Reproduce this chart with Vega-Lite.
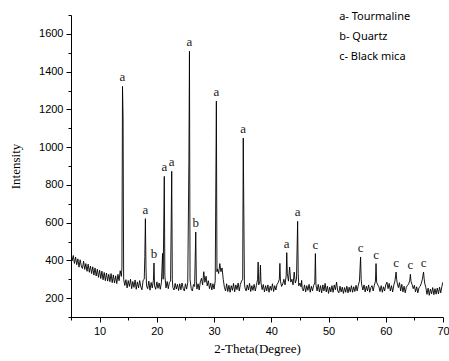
{
  "$schema": "https://vega.github.io/schema/vega-lite/v6.json",
  "width": 372,
  "height": 302,
  "autosize": {"type": "none"},
  "padding": {"left": 71, "top": 15, "right": 6, "bottom": 44},
  "background": "white",
  "config": {
    "view": {"stroke": null},
    "axis": {
      "grid": false, "domainColor": "#000", "tickColor": "#000", "labelColor": "#000", "titleColor": "#000",
      "labelFont": "Liberation Sans", "labelFontSize": 11, "titleFont": "Liberation Serif", "titleFontSize": 13, "titleFontWeight": "normal"
    }
  },
  "datasets": {
    "xrd": [
      {"x":5.0,"y":440},{"x":5.2,"y":398},{"x":5.4,"y":426},{"x":5.6,"y":384},{"x":5.8,"y":418},{"x":6.0,"y":377},{"x":6.2,"y":408},{"x":6.4,"y":364},{"x":6.6,"y":403},{"x":6.8,"y":370},
      {"x":7.0,"y":357},{"x":7.2,"y":396},{"x":7.4,"y":352},{"x":7.6,"y":383},{"x":7.8,"y":342},{"x":8.0,"y":380},{"x":8.2,"y":337},{"x":8.4,"y":370},{"x":8.6,"y":330},{"x":8.8,"y":366},
      {"x":9.0,"y":322},{"x":9.2,"y":360},{"x":9.4,"y":317},{"x":9.6,"y":353},{"x":9.8,"y":310},{"x":10.0,"y":348},{"x":10.2,"y":304},{"x":10.4,"y":343},{"x":10.6,"y":297},{"x":10.8,"y":336},
      {"x":11.0,"y":292},{"x":11.2,"y":333},{"x":11.4,"y":290},{"x":11.6,"y":326},{"x":11.8,"y":287},{"x":12.0,"y":330},{"x":12.2,"y":282},{"x":12.4,"y":323},{"x":12.6,"y":280},{"x":12.8,"y":318},
      {"x":13.0,"y":277},{"x":13.2,"y":326},{"x":13.4,"y":292},{"x":13.6,"y":345},{"x":13.8,"y":315},{"x":13.9,"y":360},{"x":14.0,"y":1322},{"x":14.1,"y":1150},{"x":14.2,"y":300},{"x":14.4,"y":267},
      {"x":14.6,"y":298},{"x":14.8,"y":254},{"x":15.0,"y":293},{"x":15.2,"y":262},{"x":15.4,"y":300},{"x":15.6,"y":250},{"x":15.8,"y":288},{"x":16.0,"y":257},{"x":16.2,"y":296},{"x":16.4,"y":247},
      {"x":16.6,"y":286},{"x":16.8,"y":254},{"x":17.0,"y":293},{"x":17.2,"y":260},{"x":17.4,"y":244},{"x":17.6,"y":295},{"x":17.8,"y":300},{"x":17.9,"y":420},{"x":18.0,"y":621},{"x":18.1,"y":360},
      {"x":18.2,"y":265},{"x":18.4,"y":250},{"x":18.6,"y":290},{"x":18.8,"y":242},{"x":19.0,"y":283},{"x":19.2,"y":254},{"x":19.4,"y":295},{"x":19.5,"y":386},{"x":19.6,"y":265},{"x":19.8,"y":247},
      {"x":20.0,"y":286},{"x":20.2,"y":252},{"x":20.4,"y":280},{"x":20.6,"y":247},{"x":20.8,"y":283},{"x":21.0,"y":437},{"x":21.1,"y":300},{"x":21.3,"y":845},{"x":21.4,"y":320},{"x":21.6,"y":254},
      {"x":21.8,"y":288},{"x":22.0,"y":250},{"x":22.2,"y":283},{"x":22.4,"y":290},{"x":22.6,"y":872},{"x":22.7,"y":300},{"x":22.8,"y":256},{"x":23.0,"y":243},{"x":23.2,"y":278},{"x":23.4,"y":248},
      {"x":23.6,"y":273},{"x":23.8,"y":240},{"x":24.0,"y":276},{"x":24.2,"y":244},{"x":24.4,"y":280},{"x":24.6,"y":252},{"x":24.8,"y":238},{"x":25.0,"y":276},{"x":25.2,"y":248},{"x":25.4,"y":282},
      {"x":25.6,"y":920},{"x":25.7,"y":1508},{"x":25.8,"y":300},{"x":26.0,"y":252},{"x":26.2,"y":238},{"x":26.4,"y":272},{"x":26.6,"y":262},{"x":26.8,"y":550},{"x":26.9,"y":290},{"x":27.0,"y":248},
      {"x":27.2,"y":276},{"x":27.4,"y":243},{"x":27.6,"y":286},{"x":27.8,"y":305},{"x":28.0,"y":270},{"x":28.2,"y":340},{"x":28.4,"y":284},{"x":28.6,"y":316},{"x":28.8,"y":265},{"x":29.0,"y":292},
      {"x":29.2,"y":250},{"x":29.4,"y":280},{"x":29.6,"y":243},{"x":29.8,"y":276},{"x":30.0,"y":248},{"x":30.2,"y":292},{"x":30.4,"y":1244},{"x":30.5,"y":340},{"x":30.6,"y":355},{"x":30.8,"y":330},
      {"x":31.0,"y":383},{"x":31.2,"y":340},{"x":31.4,"y":360},{"x":31.6,"y":300},{"x":31.8,"y":258},{"x":32.0,"y":238},{"x":32.2,"y":276},{"x":32.4,"y":235},{"x":32.6,"y":268},{"x":32.8,"y":231},
      {"x":33.0,"y":266},{"x":33.2,"y":241},{"x":33.4,"y":278},{"x":33.6,"y":233},{"x":33.8,"y":270},{"x":34.0,"y":245},{"x":34.2,"y":280},{"x":34.4,"y":238},{"x":34.6,"y":273},{"x":34.8,"y":290},
      {"x":35.0,"y":300},{"x":35.1,"y":1048},{"x":35.2,"y":650},{"x":35.3,"y":280},{"x":35.4,"y":254},{"x":35.6,"y":238},{"x":35.8,"y":270},{"x":36.0,"y":243},{"x":36.2,"y":278},{"x":36.4,"y":235},
      {"x":36.6,"y":266},{"x":36.8,"y":241},{"x":37.0,"y":273},{"x":37.2,"y":238},{"x":37.4,"y":268},{"x":37.6,"y":300},{"x":37.7,"y":391},{"x":37.8,"y":270},{"x":38.0,"y":290},{"x":38.1,"y":375},
      {"x":38.2,"y":280},{"x":38.4,"y":245},{"x":38.6,"y":272},{"x":38.8,"y":233},{"x":39.0,"y":266},{"x":39.2,"y":238},{"x":39.4,"y":270},{"x":39.6,"y":231},{"x":39.8,"y":263},{"x":40.0,"y":241},
      {"x":40.2,"y":276},{"x":40.4,"y":235},{"x":40.6,"y":266},{"x":40.8,"y":243},{"x":41.0,"y":272},{"x":41.2,"y":282},{"x":41.4,"y":300},{"x":41.5,"y":384},{"x":41.6,"y":290},{"x":41.8,"y":262},
      {"x":42.0,"y":275},{"x":42.2,"y":300},{"x":42.4,"y":270},{"x":42.6,"y":320},{"x":42.7,"y":441},{"x":42.8,"y":330},{"x":43.0,"y":290},{"x":43.2,"y":365},{"x":43.4,"y":285},{"x":43.6,"y":300},
      {"x":43.8,"y":270},{"x":44.0,"y":338},{"x":44.2,"y":280},{"x":44.4,"y":300},{"x":44.6,"y":607},{"x":44.7,"y":330},{"x":44.8,"y":265},{"x":45.0,"y":280},{"x":45.2,"y":260},{"x":45.3,"y":294},
      {"x":45.4,"y":252},{"x":45.6,"y":238},{"x":45.8,"y":270},{"x":46.0,"y":233},{"x":46.2,"y":266},{"x":46.4,"y":241},{"x":46.6,"y":273},{"x":46.8,"y":231},{"x":47.0,"y":263},{"x":47.2,"y":238},
      {"x":47.4,"y":268},{"x":47.6,"y":280},{"x":47.7,"y":436},{"x":47.8,"y":270},{"x":48.0,"y":238},{"x":48.2,"y":273},{"x":48.4,"y":233},{"x":48.6,"y":266},{"x":48.8,"y":228},{"x":49.0,"y":270},
      {"x":49.2,"y":238},{"x":49.4,"y":278},{"x":49.6,"y":233},{"x":49.8,"y":263},{"x":50.0,"y":225},{"x":50.2,"y":258},{"x":50.4,"y":233},{"x":50.6,"y":266},{"x":50.8,"y":231},{"x":51.0,"y":270},
      {"x":51.2,"y":244},{"x":51.4,"y":285},{"x":51.6,"y":238},{"x":51.8,"y":228},{"x":52.0,"y":263},{"x":52.2,"y":233},{"x":52.4,"y":258},{"x":52.6,"y":225},{"x":52.8,"y":256},{"x":53.0,"y":231},
      {"x":53.2,"y":263},{"x":53.4,"y":228},{"x":53.6,"y":258},{"x":53.8,"y":233},{"x":54.0,"y":266},{"x":54.2,"y":231},{"x":54.4,"y":260},{"x":54.6,"y":235},{"x":54.8,"y":268},{"x":55.0,"y":238},
      {"x":55.2,"y":268},{"x":55.4,"y":290},{"x":55.6,"y":418},{"x":55.7,"y":300},{"x":55.8,"y":270},{"x":56.0,"y":243},{"x":56.2,"y":270},{"x":56.4,"y":233},{"x":56.6,"y":263},{"x":56.8,"y":238},
      {"x":57.0,"y":270},{"x":57.2,"y":231},{"x":57.4,"y":256},{"x":57.6,"y":266},{"x":57.8,"y":238},{"x":58.0,"y":268},{"x":58.2,"y":290},{"x":58.3,"y":383},{"x":58.4,"y":285},{"x":58.6,"y":270},
      {"x":58.8,"y":260},{"x":59.0,"y":235},{"x":59.2,"y":266},{"x":59.4,"y":231},{"x":59.6,"y":260},{"x":59.8,"y":238},{"x":60.0,"y":270},{"x":60.2,"y":285},{"x":60.4,"y":250},{"x":60.6,"y":278},
      {"x":60.8,"y":238},{"x":61.0,"y":266},{"x":61.2,"y":233},{"x":61.4,"y":268},{"x":61.6,"y":290},{"x":61.8,"y":338},{"x":61.9,"y":300},{"x":62.0,"y":280},{"x":62.2,"y":256},{"x":62.4,"y":282},
      {"x":62.6,"y":238},{"x":62.8,"y":273},{"x":63.0,"y":233},{"x":63.2,"y":263},{"x":63.4,"y":228},{"x":63.6,"y":258},{"x":63.8,"y":268},{"x":64.0,"y":275},{"x":64.2,"y":295},{"x":64.3,"y":326},
      {"x":64.4,"y":290},{"x":64.6,"y":272},{"x":64.8,"y":250},{"x":65.0,"y":268},{"x":65.2,"y":233},{"x":65.4,"y":260},{"x":65.6,"y":228},{"x":65.8,"y":256},{"x":66.0,"y":262},{"x":66.2,"y":278},
      {"x":66.4,"y":300},{"x":66.6,"y":338},{"x":66.7,"y":305},{"x":66.8,"y":280},{"x":67.0,"y":256},{"x":67.2,"y":220},{"x":67.4,"y":253},{"x":67.6,"y":215},{"x":67.8,"y":248},{"x":68.0,"y":223},
      {"x":68.2,"y":256},{"x":68.4,"y":218},{"x":68.6,"y":250},{"x":68.8,"y":221},{"x":69.0,"y":253},{"x":69.2,"y":223},{"x":69.4,"y":258},{"x":69.6,"y":228},{"x":69.8,"y":262},{"x":70.0,"y":285}
    ],
    "peaks": [
      {"x":14.0,"y":1322,"label":"a"},{"x":18.0,"y":621,"label":"a"},{"x":19.5,"y":386,"label":"b"},{"x":21.3,"y":845,"label":"a"},
      {"x":22.6,"y":872,"label":"a"},{"x":25.7,"y":1508,"label":"a"},{"x":26.8,"y":550,"label":"b"},{"x":30.4,"y":1244,"label":"a"},
      {"x":35.1,"y":1048,"label":"a"},{"x":42.7,"y":441,"label":"a"},{"x":44.6,"y":607,"label":"a"},{"x":47.7,"y":436,"label":"c"},
      {"x":55.6,"y":418,"label":"c"},{"x":58.3,"y":383,"label":"c"},{"x":61.8,"y":338,"label":"c"},{"x":64.3,"y":326,"label":"c"},{"x":66.6,"y":338,"label":"c"}
    ],
    "legend": [
      {"x":51.85,"y":1689,"text":"a- Tourmaline"},
      {"x":51.85,"y":1582,"text":"b- Quartz"},
      {"x":51.85,"y":1477,"text":"c- Black mica"}
    ]
  },
  "layer": [
    {
      "data": {"name": "xrd"},
      "mark": {"type": "line", "color": "#000", "strokeWidth": 0.9, "clip": true},
      "encoding": {
        "x": {"field": "x", "type": "quantitative", "scale": {"domain": [5, 70], "nice": false, "zero": false},
              "axis": {"orient": "bottom", "values": [10, 20, 30, 40, 50, 60, 70], "format": "d", "tickSize": 5, "labelPadding": 3, "title": "2-Theta(Degree)", "titlePadding": 6, "labelFlush": false}},
        "y": {"field": "y", "type": "quantitative", "scale": {"domain": [100, 1700], "nice": false, "zero": false},
              "axis": {"orient": "left", "values": [200, 400, 600, 800, 1000, 1200, 1400, 1600], "format": "d", "tickSize": 5, "labelPadding": 3, "title": "Intensity", "titlePadding": 16, "labelFlush": false}}
      }
    },
    {
      "data": {"name": "peaks"},
      "mark": {"type": "text", "font": "Liberation Serif", "fontSize": 13, "fill": "#222", "baseline": "middle", "align": "center", "dy": -9},
      "encoding": {
        "x": {"field": "x", "type": "quantitative", "scale": {"domain": [5, 70], "nice": false, "zero": false},
              "axis": {"orient": "bottom", "values": [5, 15, 25, 35, 45, 55, 65], "labels": false, "tickSize": 3, "domain": false, "title": null}},
        "y": {"field": "y", "type": "quantitative", "scale": {"domain": [100, 1700], "nice": false, "zero": false},
              "axis": {"orient": "left", "values": [100, 300, 500, 700, 900, 1100, 1300, 1500, 1700], "labels": false, "tickSize": 3, "domain": false, "title": null}},
        "text": {"field": "label"}
      }
    },
    {
      "data": {"name": "legend"},
      "mark": {"type": "text", "font": "Noto Sans", "fontSize": 11, "fill": "#000", "baseline": "middle", "align": "left"},
      "encoding": {
        "x": {"field": "x", "type": "quantitative", "axis": null},
        "y": {"field": "y", "type": "quantitative", "axis": null},
        "text": {"field": "text"}
      }
    }
  ],
  "resolve": {"axis": {"x": "independent", "y": "independent"}}
}
